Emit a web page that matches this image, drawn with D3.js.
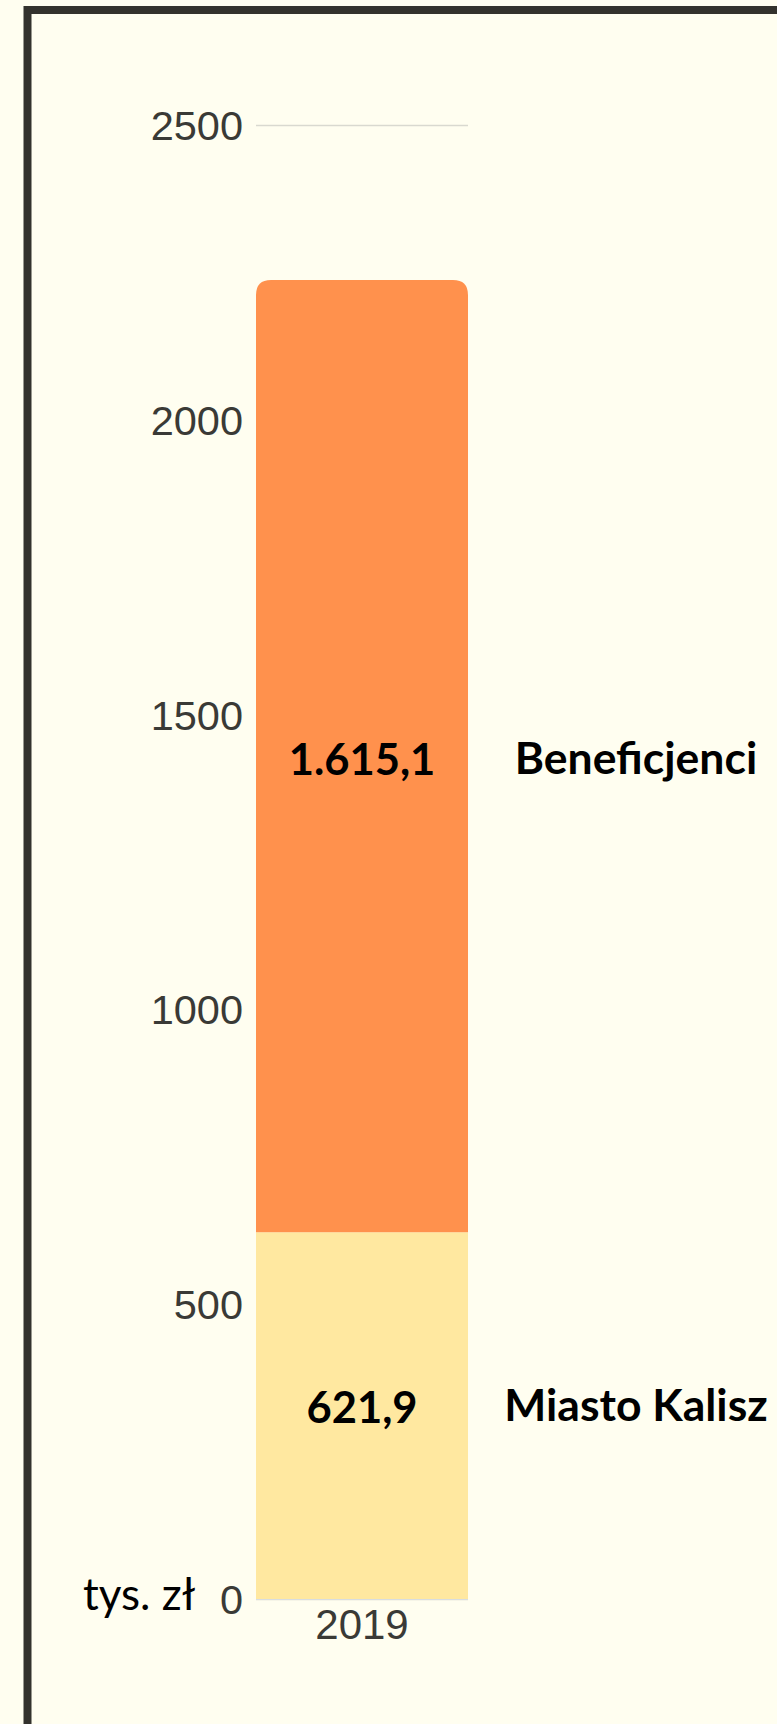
<!DOCTYPE html>
<html>
<head>
<meta charset="utf-8">
<script src="https://cdn.jsdelivr.net/npm/d3@7"></script>
<style>
  html, body { margin: 0; padding: 0; background: #FFFEF0; }
  svg { display: block; }
</style>
</head>
<body>
<svg id="chart" width="777" height="1724"></svg>
<script>
// ---- data ----
const categories = ["2019"];
const seriesNames = ["Miasto Kalisz", "Beneficjenci"];
const miastoKalisz = [621.9];
const beneficjenci = [1615.1];
const valueLabels = [["621,9"], ["1.615,1"]];
const yTicks = [0, 500, 1000, 1500, 2000, 2500];
const unitLabel = "tys. zł";
const colors = ["#FFE8A0", "#FF914D"];

// ---- layout ----
const W = 777, H = 1724;
const svg = d3.select("#chart");

svg.append("rect").attr("x", 0).attr("y", 0).attr("width", W).attr("height", H).attr("fill", "#FFFEF0");
// frame
svg.append("rect").attr("x", 27.5).attr("y", 10).attr("width", W + 40).attr("height", H + 40)
  .attr("fill", "none").attr("stroke", "#33322d").attr("stroke-width", 8);

const y = d3.scaleLinear().domain([0, 2500]).range([1599, 125]);
const x = d3.scaleBand().domain(categories).range([256, 468]).padding(0);

const table = categories.map((c, i) => ({ cat: c, "Miasto Kalisz": miastoKalisz[i], "Beneficjenci": beneficjenci[i] }));
const stacked = d3.stack().keys(seriesNames)(table);

// gridlines
svg.append("g").selectAll("line").data(yTicks).join("line")
  .attr("x1", x.range()[0]).attr("x2", x.range()[1])
  .attr("y1", d => y(d) + 0.5).attr("y2", d => y(d) + 0.5)
  .attr("stroke", "#d9d9d0").attr("stroke-width", 1.5);

// y tick labels
svg.append("g").selectAll("text").data(yTicks).join("text")
  .attr("x", 243).attr("y", d => y(d)).attr("dy", "0.36em")
  .attr("text-anchor", "end")
  .attr("font-family", "'Liberation Sans', Arial, sans-serif")
  .attr("font-size", 41.5).attr("fill", "#3a3a36")
  .text(d => d);

// bars
function roundedTop(x0, y0, w, h, r) {
  return `M${x0},${y0 + h}V${y0 + r}Q${x0},${y0} ${x0 + r},${y0}H${x0 + w - r}Q${x0 + w},${y0} ${x0 + w},${y0 + r}V${y0 + h}Z`;
}
stacked.forEach((s, si) => {
  const g = svg.append("g");
  s.forEach((d, i) => {
    const x0 = x(categories[i]), w = x.bandwidth();
    const yt = y(d[1]), yb = y(d[0]);
    if (si === stacked.length - 1) {
      g.append("path").attr("d", roundedTop(x0, yt, w, yb - yt, 15)).attr("fill", colors[si]);
    } else {
      g.append("rect").attr("x", x0).attr("y", yt).attr("width", w).attr("height", yb - yt).attr("fill", colors[si]);
    }
  });
});

// baseline
svg.append("line").attr("x1", x.range()[0]).attr("x2", x.range()[1])
  .attr("y1", y(0) + 0.5).attr("y2", y(0) + 0.5).attr("stroke", "#d8dde0").attr("stroke-width", 1);

// value labels and series labels
const labelShift = [7.3, 19];
stacked.forEach((s, si) => {
  s.forEach((d, i) => {
    const cy = y((d[0] + d[1]) / 2) + labelShift[si];
    svg.append("text")
      .attr("x", x(categories[i]) + x.bandwidth() / 2).attr("y", cy)
      .attr("text-anchor", "middle")
      .attr("font-family", "Lato, sans-serif").attr("font-weight", 700)
      .attr("font-size", 43.5).attr("fill", "#000")
      .text(valueLabels[si][i]);
    if (i === s.length - 1) {
      svg.append("text")
        .attr("x", 636).attr("y", cy - 1.5)
        .attr("text-anchor", "middle")
        .attr("font-family", "Lato, sans-serif").attr("font-weight", 700)
        .attr("font-size", 44.5).attr("fill", "#000")
        .text(seriesNames[si]);
    }
  });
});

// x axis label
svg.append("g").selectAll("text").data(categories).join("text")
  .attr("x", d => x(d) + x.bandwidth() / 2).attr("y", 1639)
  .attr("text-anchor", "middle")
  .attr("font-family", "'Liberation Sans', Arial, sans-serif")
  .attr("font-size", 42).attr("fill", "#3a3a36")
  .text(d => d);

// unit label
svg.append("text").attr("x", 83).attr("y", 1610)
  .attr("font-family", "Lato, sans-serif").attr("font-size", 44).attr("fill", "#000")
  .text(unitLabel);
</script>
</body>
</html>
